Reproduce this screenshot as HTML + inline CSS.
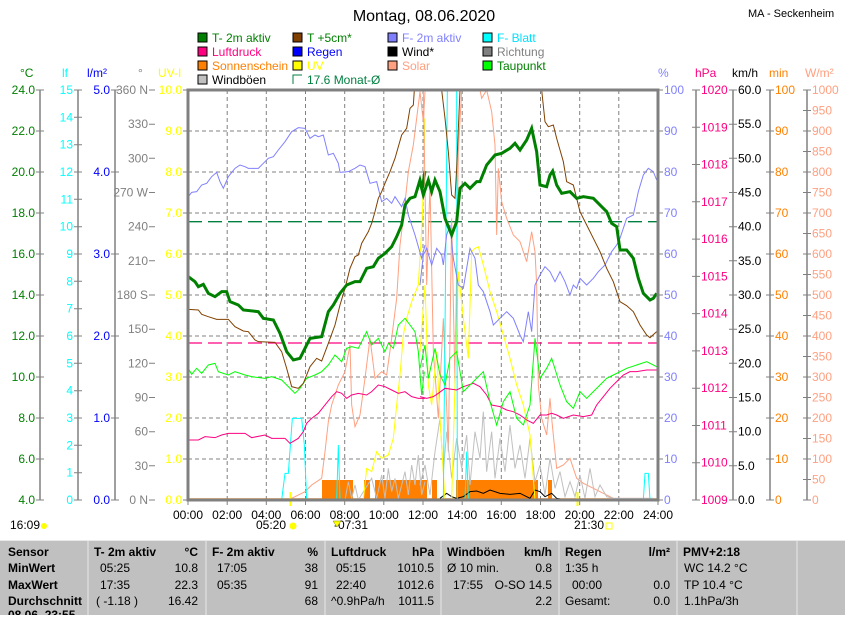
<!DOCTYPE html>
<html><head><meta charset="utf-8"><style>
body{margin:0;background:#fff;width:845px;height:615px;overflow:hidden;font-family:"Liberation Sans",sans-serif}
svg text{font-family:"Liberation Sans",sans-serif;font-size:12px}
</style></head><body>
<svg width="845" height="615" viewBox="0 0 845 615" xmlns="http://www.w3.org/2000/svg">
<text x="424" y="21" text-anchor="middle" style="font-size:16px">Montag, 08.06.2020</text>
<text x="748" y="17" style="font-size:11px">MA - Seckenheim</text>
<!-- legend -->
<g style="font-size:12px">
<rect x="198" y="33" width="9" height="9" fill="#008000" stroke="#000"/><text x="212" y="42" fill="#008000">T- 2m aktiv</text>
<rect x="293" y="33" width="9" height="9" fill="#804000" stroke="#000"/><text x="307" y="42" fill="#008000">T +5cm*</text>
<rect x="388" y="33" width="9" height="9" fill="#8080ff" stroke="#000"/><text x="402" y="42" fill="#8080ff">F- 2m aktiv</text>
<rect x="483" y="33" width="9" height="9" fill="#00ffff" stroke="#000"/><text x="497" y="42" fill="#00e0ff">F- Blatt</text>
<rect x="198" y="47" width="9" height="9" fill="#ff0080" stroke="#000"/><text x="212" y="56" fill="#ff0080">Luftdruck</text>
<rect x="293" y="47" width="9" height="9" fill="#0000ff" stroke="#000"/><text x="307" y="56" fill="#0000ff">Regen</text>
<rect x="388" y="47" width="9" height="9" fill="#000" stroke="#000"/><text x="402" y="56" fill="#000">Wind*</text>
<rect x="483" y="47" width="9" height="9" fill="#808080" stroke="#000"/><text x="497" y="56" fill="#808080">Richtung</text>
<rect x="198" y="61" width="9" height="9" fill="#ff8000" stroke="#000"/><text x="212" y="70" fill="#ff8000">Sonnenschein</text>
<rect x="293" y="61" width="9" height="9" fill="#ffff00" stroke="#000"/><text x="307" y="70" fill="#ffff00">UV</text>
<rect x="388" y="61" width="9" height="9" fill="#ffa080" stroke="#000"/><text x="402" y="70" fill="#ffa080">Solar</text>
<rect x="483" y="61" width="9" height="9" fill="#00ff00" stroke="#000"/><text x="497" y="70" fill="#008000">Taupunkt</text>
<rect x="198" y="75" width="9" height="9" fill="#c0c0c0" stroke="#000"/><text x="212" y="84" fill="#000">Windböen</text>
<path d="M293 84V75h9" fill="none" stroke="#008040"/><text x="307" y="84" fill="#008040">17.6 Monat-Ø</text>
</g>
<!-- axis headers -->
<g style="font-size:11px">
<text x="20" y="77" fill="#008000">°C</text><text x="62" y="77" fill="#00ffff">lf</text><text x="87" y="77" fill="#0000ff">l/m²</text>
<text x="138" y="77" fill="#808080">°</text><text x="158" y="77" fill="#ffff00">UV-I</text>
<text x="658" y="77" fill="#8080ff">%</text><text x="695" y="77" fill="#ff0080">hPa</text><text x="732" y="77" fill="#000">km/h</text>
<text x="769" y="77" fill="#ff8000">min</text><text x="805" y="77" fill="#ffa080">W/m²</text>
</g>
<!-- grid -->
<g stroke="#808080" stroke-dasharray="4,3" stroke-width="1">
<line x1="227.2" y1="90" x2="227.2" y2="500"/><line x1="266.3" y1="90" x2="266.3" y2="500"/><line x1="305.5" y1="90" x2="305.5" y2="500"/><line x1="344.7" y1="90" x2="344.7" y2="500"/><line x1="383.8" y1="90" x2="383.8" y2="500"/><line x1="423" y1="90" x2="423" y2="500"/><line x1="462.2" y1="90" x2="462.2" y2="500"/><line x1="501.3" y1="90" x2="501.3" y2="500"/><line x1="540.5" y1="90" x2="540.5" y2="500"/><line x1="579.7" y1="90" x2="579.7" y2="500"/><line x1="618.8" y1="90" x2="618.8" y2="500"/>
<line x1="188" y1="131" x2="658" y2="131"/><line x1="188" y1="172" x2="658" y2="172"/><line x1="188" y1="213" x2="658" y2="213"/><line x1="188" y1="254" x2="658" y2="254"/><line x1="188" y1="295" x2="658" y2="295"/><line x1="188" y1="336" x2="658" y2="336"/><line x1="188" y1="377" x2="658" y2="377"/><line x1="188" y1="418" x2="658" y2="418"/><line x1="188" y1="459" x2="658" y2="459"/>
</g>
<line x1="188" y1="221.7" x2="658" y2="221.7" stroke="#008040" stroke-width="1.3" stroke-dasharray="14,6"/>
<line x1="188" y1="343" x2="658" y2="343" stroke="#ff0080" stroke-width="1.3" stroke-dasharray="14,6"/>
<!-- sunshine -->
<g fill="#ff8000"><rect x="322" y="480" width="31" height="20"/><rect x="364" y="480" width="6" height="20"/><rect x="375" y="480" width="52" height="20"/><rect x="432" y="480" width="5" height="20"/><rect x="456" y="480" width="82" height="20"/><rect x="548" y="480" width="4" height="20"/></g>
<line x1="188" y1="499" x2="658" y2="499" stroke="#ff8000" stroke-width="1.5"/>
<g fill="none" stroke-width="3" vector-effect="non-scaling-stroke">
<!-- left half series -->
<g transform="translate(185,85) scale(0.33333)">
<polyline stroke="#ffa080" stroke-width="3" points="320,1240 360,1220 380,1200 410,1180 420,1100 430,1010 440,960 460,900 480,860 495,780 500,960 510,1025 525,990 540,880 555,760 570,880 590,860 605,870 620,760 635,640 645,480 655,400 670,260 685,180 695,100 705,20 715,110 720,20"/>
<polyline stroke="#c0c0c0" stroke-width="3" points="480,1245 490,1190 500,1240 510,1200 520,1245 560,1180 575,1240 590,1170 600,1240 610,1150 620,1220 630,1180 640,1240 660,1160 670,1230 680,1140 690,1200 700,1110 710,1230 720,1190"/>
<polyline stroke="#ffff00" stroke-width="3" points="535,1245 545,1150 560,1160 575,1100 590,1120 610,1110 625,1060 635,960 645,870 655,750 665,700 680,650 700,600 712,400 720,100"/>
<polyline stroke="#00ffff" stroke-width="3" points="290,1245 300,1165 310,1165 322,1000 350,1000 358,1080 365,1245"/>
<polyline stroke="#00ffff" stroke-width="3" points="455,1245 460,1080 465,1245"/>
<polyline stroke="#ff0080" stroke-width="3" points="10,1065 40,1065 60,1055 90,1058 110,1050 130,1045 180,1045 200,1058 240,1050 260,1060 300,1060 315,1075 340,1060 355,1040 365,1015 380,1000 400,985 420,960 440,935 455,920 470,925 485,940 500,930 520,925 545,930 560,920 580,900 600,905 620,915 640,925 660,920 680,935 700,940 720,940"/>
<polyline stroke="#00ff00" stroke-width="3" points="10,850 20,868 35,850 50,865 70,840 90,835 100,860 130,870 150,860 180,870 200,875 240,880 260,875 290,885 310,905 330,925 345,910 365,880 390,870 410,860 430,840 450,810 470,830 485,790 500,785 520,790 545,740 560,780 580,760 600,800 610,775 625,790 640,720 660,700 675,720 690,740 700,800 710,930 718,860"/>
<polyline stroke="#8080ff" stroke-width="3" points="10,335 20,322 35,320 50,300 65,295 80,275 95,262 105,290 115,310 130,275 150,250 165,240 180,245 190,250 220,250 235,235 250,220 265,215 280,195 300,170 320,140 340,128 360,130 375,160 390,150 400,155 415,150 430,210 445,205 460,235 465,262 490,260 510,250 525,240 540,245 555,295 575,290 590,350 605,340 620,355 630,335 640,350 650,365 660,340 670,390 680,420 690,450 700,485 710,520 720,480"/>
<polyline stroke="#804000" stroke-width="3" points="10,673 40,675 50,688 70,695 95,703 130,703 150,725 175,738 190,740 210,765 220,770 270,772 290,800 305,850 320,905 340,910 355,895 375,845 395,820 410,828 430,775 450,720 465,660 480,610 495,550 510,515 520,510 530,475 550,440 560,415 570,380 580,340 590,320 600,295 615,260 630,220 650,150 665,130 675,70 685,60 688,15"/>
<polyline stroke="#008000" stroke-width="9" points="10,575 30,590 40,605 55,598 70,625 90,635 110,620 125,620 135,650 160,660 175,675 220,680 235,700 265,705 285,745 305,800 325,825 345,820 360,790 375,760 410,755 430,680 445,660 465,625 485,600 510,590 525,590 545,550 565,545 580,520 600,505 620,485 635,455 650,420 660,360 675,340 690,335 705,285 712,310 720,258"/>
</g>
<!-- right half series -->
<g transform="translate(420,85) scale(0.33333)">
<polyline stroke="#ffa080" stroke-width="3" points="0,15 10,15 20,600 30,300 40,800 55,1000 70,700 85,1100 95,400 105,900 115,200 125,15"/>
<polyline stroke="#ffa080" stroke-width="3" points="180,15 185,40 200,15 215,80 225,180 230,450 235,250 245,350 260,400 280,450 300,470 320,530 335,440 345,500 350,600 355,900 365,1000 380,1050 390,940 395,1000 410,1150 430,1140 450,1120 470,1180 490,1195 520,1210 550,1225 580,1240 700,1240"/>
<polyline stroke="#c0c0c0" stroke-width="3" points="0,1200 15,1140 30,1230 45,1100 60,1000 70,1160 80,1040 95,1180 110,1060 125,1150 140,1050 150,1200 165,1040 180,1120 190,980 200,1160 215,1040 225,1180 240,1060 255,1160 270,1020 285,1150 300,1080 315,1180 330,1060 345,1190 360,1140 375,1230 390,1120 405,1210 420,1160 435,1235 450,1190 465,1235 480,1170 495,1240 510,1150 525,1235 540,1200 560,1235 580,1240 700,1240"/>
<polyline stroke="#000" stroke-width="3" points="60,1240 80,1225 95,1235 110,1240 130,1235 150,1220 170,1218 190,1225 210,1215 240,1225 270,1228 300,1225 330,1240 345,1215 360,1220 375,1235 395,1225 410,1240 440,1245"/>
<polyline stroke="#ffff00" stroke-width="3" points="0,800 15,600 25,900 35,960 50,800 60,1000 75,1245 95,1245 105,900 115,560 130,700 145,820 155,500 165,490 175,485 190,540 210,620 230,680 250,750 270,820 290,900 310,960 330,1050 345,1245"/>
<polyline stroke="#00ffff" stroke-width="3" points="70,1245 82,15 110,15 112,1245"/>
<polyline stroke="#00ffff" stroke-width="3" points="135,1245 140,1100 145,1245"/>
<polyline stroke="#00ffff" stroke-width="3" points="670,1245 675,1165 685,1165 690,1245"/>
<polyline stroke="#ff0080" stroke-width="3" points="0,935 20,940 40,935 55,925 75,910 110,915 130,905 160,895 180,905 200,930 215,960 240,965 260,975 280,980 300,990 320,1005 340,1015 360,990 380,990 395,985 410,990 430,1000 460,990 490,995 515,990 530,960 550,935 570,910 590,890 610,870 630,860 650,860 680,855 710,855"/>
<polyline stroke="#00ff00" stroke-width="3" points="0,850 15,780 25,880 45,790 60,870 75,900 90,820 110,800 130,920 150,900 170,880 190,860 210,950 230,1020 250,950 270,920 290,1000 310,1020 330,960 345,760 360,880 380,850 395,820 420,900 440,950 460,970 480,920 500,940 520,920 540,900 560,880 580,870 600,860 620,850 650,840 680,830 710,845"/>
<polyline stroke="#8080ff" stroke-width="3" points="0,600 10,510 20,490 35,540 50,490 65,510 70,540 80,450 90,420 100,520 115,600 130,610 150,490 165,520 175,600 190,620 210,680 220,720 240,700 260,680 280,700 300,750 310,770 325,680 335,740 345,600 360,570 375,545 390,560 405,590 420,560 435,590 450,630 460,600 470,610 480,580 500,600 520,580 535,560 555,540 575,500 590,480 600,460 620,400 640,390 655,320 670,270 685,250 700,260 710,285"/>
<polyline stroke="#804000" stroke-width="3" points="65,15 75,100 85,200 95,330 105,340 110,250 120,15"/>
<polyline stroke="#804000" stroke-width="3" points="365,15 375,110 385,125 400,120 410,160 430,230 440,290 460,300 480,380 500,420 520,460 540,500 560,550 580,590 600,650 620,662 640,680 660,720 680,750 690,758 710,740"/>
<polyline stroke="#008000" stroke-width="9" points="0,290 10,330 25,285 35,320 45,285 60,320 75,400 95,450 110,410 120,310 135,295 150,310 170,290 180,290 200,240 225,210 245,205 270,190 285,175 300,195 320,165 335,130 350,200 360,300 380,305 390,270 398,258 410,300 425,325 450,320 470,340 490,335 520,340 545,365 560,380 575,415 590,425 600,495 620,495 640,520 655,580 670,625 690,645 700,640 710,625"/>
</g>
</g>
<line x1="364" y1="499.5" x2="658" y2="499.5" stroke="#0000ff" stroke-width="1.5" stroke-dasharray="2,1"/>
<line x1="290.5" y1="492" x2="290.5" y2="506" stroke="#ffff00" stroke-width="2"/>
<line x1="577.5" y1="492" x2="577.5" y2="506" stroke="#ffff00" stroke-width="2"/>
<!-- plot frame -->
<rect x="188" y="90" width="470" height="410" fill="none" stroke="#808080" stroke-width="3"/>
<!-- left axes -->
<g stroke="#808080" stroke-width="1.5">
<line x1="40" y1="90" x2="40" y2="500"/><line x1="78" y1="90" x2="78" y2="500"/><line x1="115" y1="90" x2="115" y2="500"/>
<line x1="696" y1="90" x2="696" y2="500"/><line x1="733" y1="90" x2="733" y2="500"/><line x1="770" y1="90" x2="770" y2="500"/><line x1="807" y1="90" x2="807" y2="500"/>
</g>
<g stroke="#808080" stroke-width="1">
<path d="M36 90h8M36 131h8M36 172h8M36 213h8M36 254h8M36 295h8M36 336h8M36 377h8M36 418h8M36 459h8M36 500h8"/>
<path d="M74 90h8M74 117.3h8M74 144.7h8M74 172h8M74 199.3h8M74 226.7h8M74 254h8M74 281.3h8M74 308.7h8M74 336h8M74 363.3h8M74 390.7h8M74 418h8M74 445.3h8M74 472.7h8M74 500h8"/>
<path d="M111 90h8M111 172h8M111 254h8M111 336h8M111 418h8M111 500h8"/>
<path d="M149 90h6M149 124.2h6M149 158.3h6M149 192.5h6M149 226.7h6M149 260.8h6M149 295h6M149 329.2h6M149 363.3h6M149 397.5h6M149 431.7h6M149 465.8h6M149 500h6"/>
<path d="M183 90h5M183 131h5M183 172h5M183 213h5M183 254h5M183 295h5M183 336h5M183 377h5M183 418h5M183 459h5M183 500h5"/>
<path d="M658 90h5M658 131h5M658 172h5M658 213h5M658 254h5M658 295h5M658 336h5M658 377h5M658 418h5M658 459h5M658 500h5"/>
<path d="M692 90h8M692 127.3h8M692 164.5h8M692 201.8h8M692 239.1h8M692 276.4h8M692 313.6h8M692 350.9h8M692 388.2h8M692 425.5h8M692 462.7h8M692 500h8"/>
<path d="M729 90h8M729 124.2h8M729 158.3h8M729 192.5h8M729 226.7h8M729 260.8h8M729 295h8M729 329.2h8M729 363.3h8M729 397.5h8M729 431.7h8M729 465.8h8M729 500h8"/>
<path d="M766 90h8M766 131h8M766 172h8M766 213h8M766 254h8M766 295h8M766 336h8M766 377h8M766 418h8M766 459h8M766 500h8"/>
<path d="M803 90h8M803 110.5h8M803 131h8M803 151.5h8M803 172h8M803 192.5h8M803 213h8M803 233.5h8M803 254h8M803 274.5h8M803 295h8M803 315.5h8M803 336h8M803 356.5h8M803 377h8M803 397.5h8M803 418h8M803 438.5h8M803 459h8M803 479.5h8M803 500h8"/>
</g>
<g text-anchor="end" fill="#008000" dominant-baseline="central">
<text x="35" y="90">24.0</text><text x="35" y="131">22.0</text><text x="35" y="172">20.0</text><text x="35" y="213">18.0</text><text x="35" y="254">16.0</text><text x="35" y="295">14.0</text><text x="35" y="336">12.0</text><text x="35" y="377">10.0</text><text x="35" y="418">8.0</text><text x="35" y="459">6.0</text><text x="35" y="500">4.0</text>
</g>
<g text-anchor="end" fill="#00ffff" dominant-baseline="central">
<text x="73" y="90">15</text><text x="73" y="117.3">14</text><text x="73" y="144.7">13</text><text x="73" y="172">12</text><text x="73" y="199.3">11</text><text x="73" y="226.7">10</text><text x="73" y="254">9</text><text x="73" y="281.3">8</text><text x="73" y="308.7">7</text><text x="73" y="336">6</text><text x="73" y="363.3">5</text><text x="73" y="390.7">4</text><text x="73" y="418">3</text><text x="73" y="445.3">2</text><text x="73" y="472.7">1</text><text x="73" y="500">0</text>
</g>
<g text-anchor="end" fill="#0000ff" dominant-baseline="central">
<text x="110" y="90">5.0</text><text x="110" y="172">4.0</text><text x="110" y="254">3.0</text><text x="110" y="336">2.0</text><text x="110" y="418">1.0</text><text x="110" y="500">0.0</text>
</g>
<g text-anchor="end" fill="#808080" dominant-baseline="central">
<text x="148" y="90">360 N</text><text x="148" y="124.2">330</text><text x="148" y="158.3">300</text><text x="148" y="192.5">270 W</text><text x="148" y="226.7">240</text><text x="148" y="260.8">210</text><text x="148" y="295">180 S</text><text x="148" y="329.2">150</text><text x="148" y="363.3">120</text><text x="148" y="397.5">90</text><text x="148" y="431.7">60</text><text x="148" y="465.8">30</text><text x="148" y="500">0 N</text>
</g>
<g text-anchor="end" fill="#ffff00" dominant-baseline="central">
<text x="182" y="90">10.0</text><text x="182" y="131">9.0</text><text x="182" y="172">8.0</text><text x="182" y="213">7.0</text><text x="182" y="254">6.0</text><text x="182" y="295">5.0</text><text x="182" y="336">4.0</text><text x="182" y="377">3.0</text><text x="182" y="418">2.0</text><text x="182" y="459">1.0</text><text x="182" y="500">0.0</text>
</g>
<g fill="#8080ff" dominant-baseline="central">
<text x="664" y="90">100</text><text x="664" y="131">90</text><text x="664" y="172">80</text><text x="664" y="213">70</text><text x="664" y="254">60</text><text x="664" y="295">50</text><text x="664" y="336">40</text><text x="664" y="377">30</text><text x="664" y="418">20</text><text x="664" y="459">10</text><text x="664" y="500">0</text>
</g>
<g fill="#ff0080" dominant-baseline="central">
<text x="701" y="90">1020</text><text x="701" y="127.3">1019</text><text x="701" y="164.5">1018</text><text x="701" y="201.8">1017</text><text x="701" y="239.1">1016</text><text x="701" y="276.4">1015</text><text x="701" y="313.6">1014</text><text x="701" y="350.9">1013</text><text x="701" y="388.2">1012</text><text x="701" y="425.5">1011</text><text x="701" y="462.7">1010</text><text x="701" y="500">1009</text>
</g>
<g fill="#000" dominant-baseline="central">
<text x="738" y="90">60.0</text><text x="738" y="124.2">55.0</text><text x="738" y="158.3">50.0</text><text x="738" y="192.5">45.0</text><text x="738" y="226.7">40.0</text><text x="738" y="260.8">35.0</text><text x="738" y="295">30.0</text><text x="738" y="329.2">25.0</text><text x="738" y="363.3">20.0</text><text x="738" y="397.5">15.0</text><text x="738" y="431.7">10.0</text><text x="738" y="465.8">5.0</text><text x="738" y="500">0.0</text>
</g>
<g fill="#ff8000" dominant-baseline="central">
<text x="775" y="90">100</text><text x="775" y="131">90</text><text x="775" y="172">80</text><text x="775" y="213">70</text><text x="775" y="254">60</text><text x="775" y="295">50</text><text x="775" y="336">40</text><text x="775" y="377">30</text><text x="775" y="418">20</text><text x="775" y="459">10</text><text x="775" y="500">0</text>
</g>
<g fill="#ffa080" dominant-baseline="central">
<text x="812" y="90">1000</text><text x="812" y="110.5">950</text><text x="812" y="131">900</text><text x="812" y="151.5">850</text><text x="812" y="172">800</text><text x="812" y="192.5">750</text><text x="812" y="213">700</text><text x="812" y="233.5">650</text><text x="812" y="254">600</text><text x="812" y="274.5">550</text><text x="812" y="295">500</text><text x="812" y="315.5">450</text><text x="812" y="336">400</text><text x="812" y="356.5">350</text><text x="812" y="377">300</text><text x="812" y="397.5">250</text><text x="812" y="418">200</text><text x="812" y="438.5">150</text><text x="812" y="459">100</text><text x="812" y="479.5">50</text><text x="812" y="500">0</text>
</g>
<!-- x ticks -->
<path d="M188 500v5M227.2 500v5M266.3 500v5M305.5 500v5M344.7 500v5M383.8 500v5M423 500v5M462.2 500v5M501.3 500v5M540.5 500v5M579.7 500v5M618.8 500v5M658 500v5" stroke="#808080"/>
<g text-anchor="middle" fill="#000">
<text x="188" y="519">00:00</text><text x="227.2" y="519">02:00</text><text x="266.3" y="519">04:00</text><text x="305.5" y="519">06:00</text><text x="344.7" y="519">08:00</text><text x="383.8" y="519">10:00</text><text x="423" y="519">12:00</text><text x="462.2" y="519">14:00</text><text x="501.3" y="519">16:00</text><text x="540.5" y="519">18:00</text><text x="579.7" y="519">20:00</text><text x="618.8" y="519">22:00</text><text x="658" y="519">24:00</text>
<text x="271" y="529">05:20</text><text x="351" y="529">-07:31</text><text x="589" y="529">21:30</text>
</g>
<circle cx="293" cy="526" r="3.5" fill="#ffff00"/><rect x="606" y="523" width="6" height="6" fill="none" stroke="#ffff00"/>
<path d="M333 521l4 6 4-6z" fill="#ffff00" stroke="#808000" stroke-width="0.5"/>
<text x="10" y="529" fill="#000">16:09</text><circle cx="44" cy="526" r="3" fill="#ffff00"/>
<!-- table -->
<rect x="0" y="540" width="845" height="75" fill="#c0c0c0"/>
<line x1="0" y1="540.5" x2="845" y2="540.5" stroke="#e8e8e8"/>
<g stroke="#e8e8e8"><line x1="88" y1="541" x2="88" y2="615"/><line x1="206" y1="541" x2="206" y2="615"/><line x1="325" y1="541" x2="325" y2="615"/><line x1="441" y1="541" x2="441" y2="615"/><line x1="559" y1="541" x2="559" y2="615"/><line x1="677" y1="541" x2="677" y2="615"/><line x1="797" y1="541" x2="797" y2="615"/></g>
<g style="font-size:11px" fill="#000">
<g font-weight="bold"><text x="8" y="556">Sensor</text><text x="8" y="572">MinWert</text><text x="8" y="589">MaxWert</text><text x="8" y="605">Durchschnitt</text><text x="8" y="619">08.06. 23:55</text>
<text x="94" y="556">T- 2m aktiv</text><text x="198" y="556" text-anchor="end">°C</text>
<text x="212" y="556">F- 2m aktiv</text><text x="318" y="556" text-anchor="end">%</text>
<text x="331" y="556">Luftdruck</text><text x="434" y="556" text-anchor="end">hPa</text>
<text x="447" y="556">Windböen</text><text x="552" y="556" text-anchor="end">km/h</text>
<text x="565" y="556">Regen</text><text x="670" y="556" text-anchor="end">l/m²</text>
<text x="683" y="556">PMV+2:18</text></g>
<text x="100" y="572">05:25</text><text x="198" y="572" text-anchor="end">10.8</text>
<text x="100" y="589">17:35</text><text x="198" y="589" text-anchor="end">22.3</text>
<text x="96" y="605">( -1.18 )</text><text x="198" y="605" text-anchor="end">16.42</text>
<text x="217" y="572">17:05</text><text x="318" y="572" text-anchor="end">38</text>
<text x="217" y="589">05:35</text><text x="318" y="589" text-anchor="end">91</text>
<text x="318" y="605" text-anchor="end">68</text>
<text x="336" y="572">05:15</text><text x="434" y="572" text-anchor="end">1010.5</text>
<text x="336" y="589">22:40</text><text x="434" y="589" text-anchor="end">1012.6</text>
<text x="331" y="605">^0.9hPa/h</text><text x="434" y="605" text-anchor="end">1011.5</text>
<text x="447" y="572">Ø 10 min.</text><text x="552" y="572" text-anchor="end">0.8</text>
<text x="453" y="589">17:55</text><text x="552" y="589" text-anchor="end">O-SO 14.5</text>
<text x="552" y="605" text-anchor="end">2.2</text>
<text x="565" y="572">1:35 h</text>
<text x="572" y="589">00:00</text><text x="670" y="589" text-anchor="end">0.0</text>
<text x="565" y="605">Gesamt:</text><text x="670" y="605" text-anchor="end">0.0</text>
<text x="684" y="572">WC 14.2 °C</text><text x="684" y="589">TP 10.4 °C</text><text x="684" y="605">1.1hPa/3h</text>
</g>
</svg>
</body></html>
